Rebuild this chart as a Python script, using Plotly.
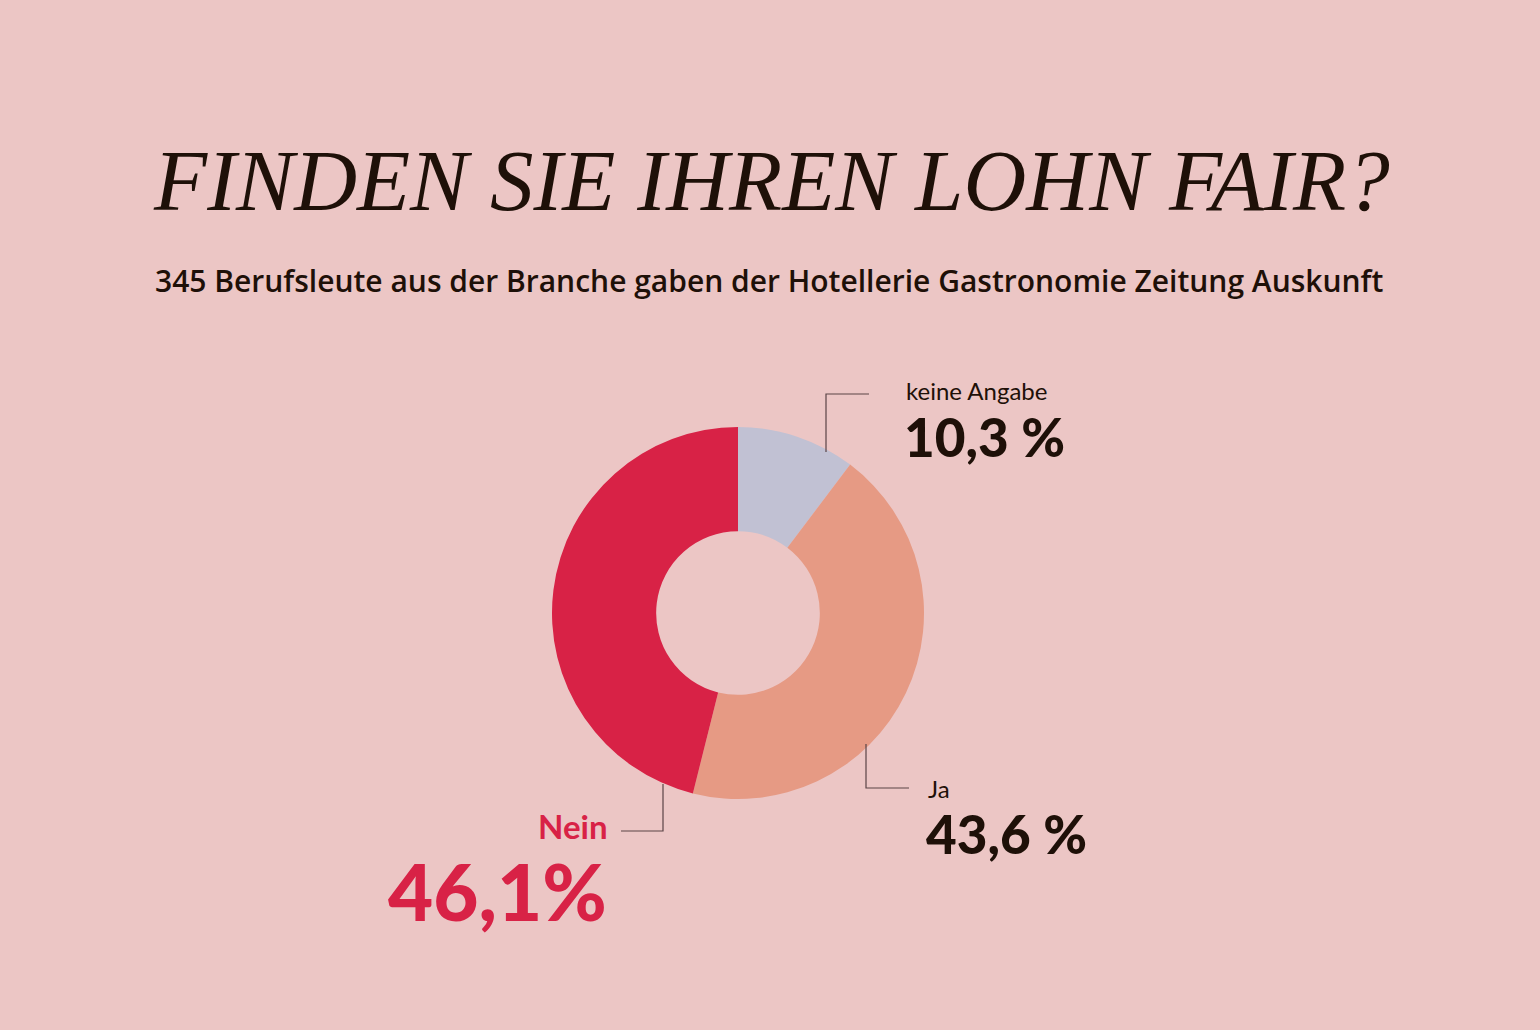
import plotly.graph_objects as go

# survey answers
labels = ["keine Angabe", "Ja", "Nein"]
values = [10.3, 43.6, 46.1]
colors = ["#C1C1D3", "#E69A84", "#D82246"]
pct_text = ["10,3 %", "43,6 %", "46,1%"]

W, H = 1540, 1030
BG = "#ECC6C5"
INK = "#1E1008"
RED = "#D82246"


def px(x):
    return x / W


def py(y):
    return 1 - y / H


fig = go.Figure()

fig.add_trace(go.Pie(
    labels=labels,
    values=values,
    marker=dict(colors=colors, line=dict(width=0)),
    hole=0.44,
    sort=False,
    direction="clockwise",
    rotation=0,
    textinfo="none",
    hoverinfo="label+percent",
    showlegend=False,
    domain=dict(x=[px(552), px(924)], y=[py(799), py(427)]),
))

# connector lines
line_style = dict(color="#5A4446", width=1.2)
connectors = [
    [(869, 394), (826, 394), (826, 452)],
    [(909, 788), (866, 788), (866, 744)],
    [(621, 831), (663, 831), (663, 784)],
]
for pts in connectors:
    path = "M " + " L ".join(f"{px(x)},{py(y)}" for x, y in pts)
    fig.add_shape(type="path", path=path, xref="paper", yref="paper", line=line_style)

ann = []
ann.append(dict(text="<i>FINDEN SIE IHREN LOHN FAIR?</i>", x=px(772), y=py(181),
                font=dict(family="Liberation Serif", size=87, color=INK),
                xanchor="center", yanchor="middle"))
ann.append(dict(text="345 Berufsleute aus der Branche gaben der Hotellerie Gastronomie Zeitung Auskunft",
                x=px(769), y=py(280), font=dict(family="Open Sans", size=30, color=INK, weight=600),
                xanchor="center", yanchor="middle"))

# slice labels
ann.append(dict(text=labels[0], x=px(904), y=py(390), xanchor="left", yanchor="middle",
                font=dict(family="Lato", size=24, color=INK)))
ann.append(dict(text=pct_text[0], x=px(902), y=py(436), xanchor="left", yanchor="middle",
                font=dict(family="Lato", size=53, color=INK, weight=900)))
ann.append(dict(text=labels[1], x=px(926), y=py(788), xanchor="left", yanchor="middle",
                font=dict(family="Lato", size=24, color=INK)))
ann.append(dict(text=pct_text[1], x=px(924), y=py(833), xanchor="left", yanchor="middle",
                font=dict(family="Lato", size=53, color=INK, weight=900)))
ann.append(dict(text="<b>" + labels[2] + "</b>", x=px(610), y=py(826), xanchor="right", yanchor="middle",
                font=dict(family="Lato", size=33, color=RED)))
ann.append(dict(text=pct_text[2], x=px(609), y=py(891), xanchor="right", yanchor="middle",
                font=dict(family="Lato", size=78, color=RED, weight=900)))

for a in ann:
    a.update(xref="paper", yref="paper", showarrow=False)

fig.update_layout(
    width=W, height=H,
    margin=dict(l=0, r=0, t=0, b=0),
    paper_bgcolor=BG,
    plot_bgcolor=BG,
    annotations=ann,
)

fig.write_html("out.html", config=dict(displayModeBar=False),
               post_script="document.body.style.margin='0';")
